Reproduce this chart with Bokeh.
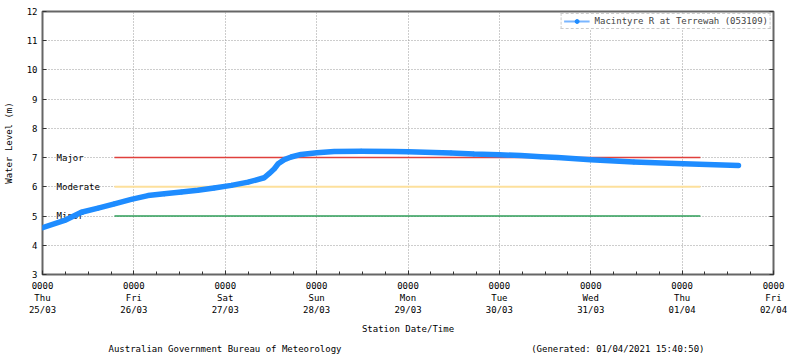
from bokeh.plotting import figure
from bokeh.models import (FixedTicker, LinearAxis, Legend, LegendItem, Title,
                          ColumnDataSource, Range1d)
from bokeh.core.properties import value
from bokeh.embed import file_html
from bokeh.resources import INLINE

# ---- data (hours since Thu 25/03 00:00) ----
hours = [0, 5.8, 10.2, 14.6, 18.9, 23.3, 27.7, 32, 36.5, 40.8, 45.1, 49.6, 54,
         58.2, 59.5, 60.9, 61.9, 63.5, 65.3, 67.9, 72.1, 76.6, 83.7, 92.3, 96,
         107.3, 113.3, 119.9, 125.6, 130.9, 135.3, 144, 155.3, 168.4, 182.8]
levels = [4.6, 4.85, 5.13, 5.27, 5.42, 5.57, 5.70, 5.76, 5.82, 5.88, 5.96, 6.05,
          6.16, 6.31, 6.45, 6.62, 6.79, 6.93, 7.02, 7.11, 7.17, 7.21, 7.22, 7.21,
          7.20, 7.16, 7.12, 7.10, 7.07, 7.03, 7.00, 6.93, 6.85, 6.79, 6.73]

day_ticks = [0, 24, 48, 72, 96, 120, 144, 168, 192]
day_times = ["0000"] * 9
day_names = ["Thu", "Fri", "Sat", "Sun", "Mon", "Tue", "Wed", "Thu", "Fri"]
day_dates = ["25/03", "26/03", "27/03", "28/03", "29/03", "30/03", "31/03", "01/04", "02/04"]
minor_ticks = list(range(0, 193, 6))
y_ticks = [3, 4, 5, 6, 7, 8, 9, 10, 11, 12]

thr_names = ["Major", "Moderate", "Minor"]
thr_levels = [7, 6, 5]
thr_colors = ["#e0403c", "#fde09c", "#2e9e58"]
thr_start = 18.9
thr_end = 172.8
thr_label_x = 3.7

series_name = "Macintyre R at Terrewah (053109)"
footer_left = "Australian Government Bureau of Meteorology"
footer_right = "(Generated: 01/04/2021 15:40:50)"
FONT = "DejaVu Sans Mono"
FS = "9px"

p = figure(width=800, height=358, output_backend="svg", toolbar_location=None,
           x_range=Range1d(0, 192), y_range=Range1d(3, 12),
           min_border_left=41, min_border_right=27, min_border_top=11,
           min_border_bottom=84)
p.background_fill_color = "white"
p.border_fill_color = "white"
p.outline_line_color = "#666666"
p.outline_line_width = 2

# axes
p.xaxis.ticker = FixedTicker(ticks=day_ticks, minor_ticks=minor_ticks)
p.yaxis.ticker = FixedTicker(ticks=y_ticks, minor_ticks=[])
p.xaxis.major_label_overrides = {t: f"{a}\n{b}\n{c}" for t, a, b, c in
                                 zip(day_ticks, day_times, day_names, day_dates)}
for ax in (p.xaxis[0], p.yaxis[0]):
    ax.axis_line_color = None
    ax.major_tick_in = 4
    ax.major_tick_out = 0
    ax.minor_tick_in = 3
    ax.minor_tick_out = 0
    ax.major_tick_line_color = "#333333"
    ax.minor_tick_line_color = "#333333"
    ax.major_label_text_font = FONT
    ax.major_label_text_font_size = FS
    ax.major_label_text_color = "black"
    ax.axis_label_text_font = FONT
    ax.axis_label_text_font_size = FS
    ax.axis_label_text_font_style = "normal"
    ax.axis_label_text_color = "black"
p.xaxis.axis_label = "Station Date/Time"
p.xaxis.major_label_standoff = 6
p.xaxis.axis_label_standoff = 6
p.yaxis.axis_label = "Water Level (m)"
p.yaxis.major_label_standoff = 5
p.yaxis.axis_label_standoff = 10

ra = LinearAxis(ticker=FixedTicker(ticks=y_ticks, minor_ticks=[]),
                axis_line_color=None, major_tick_in=4, major_tick_out=0,
                minor_tick_in=0, minor_tick_out=0,
                major_tick_line_color="#333333",
                major_label_overrides={t: "" for t in y_ticks})
p.add_layout(ra, "right")

# footer as a bottom title (monospace, aligned with non-breaking spaces)
gap = "\u00a0" * 35
p.add_layout(Title(text=footer_left + gap + footer_right, align="left",
                   offset=66, standoff=10, text_font=FONT, text_font_size=FS,
                   text_font_style="normal", text_color="black"), "below")

# grid
p.xgrid.ticker = FixedTicker(ticks=day_ticks)
p.ygrid.ticker = FixedTicker(ticks=y_ticks)
for g in (p.xgrid[0], p.ygrid[0]):
    g.grid_line_color = "#9a9a9a"
    g.grid_line_dash = "1 2"
    g.grid_line_width = 1

# thresholds
for n, lv, c in zip(thr_names, thr_levels, thr_colors):
    p.segment(x0=[thr_start], y0=[lv], x1=[thr_end], y1=[lv], line_color=c,
              line_width=2 if n == "Moderate" else 1.5)
p.text(x=[thr_label_x] * 3, y=thr_levels, text=thr_names,
       text_font=value(FONT), text_font_size=FS, text_baseline="middle",
       text_align="left", text_color="black")

# series
src = ColumnDataSource(dict(x=hours, y=levels))
lg_line = p.line("x", "y", source=src, line_color="#7ab6ff", line_width=2)
lg_pt = p.scatter("x", "y", source=src, marker="circle", size=4,
                  fill_color="#1e8cff", line_color="#1e8cff")
p.line("x", "y", source=src, line_color="#1e8cff", line_width=5.5,
       line_join="round", line_cap="round")

legend = Legend(items=[LegendItem(label=series_name, renderers=[lg_line, lg_pt])],
                location="top_right", margin=2, padding=2, spacing=0,
                glyph_width=26, glyph_height=10, label_height=10,
                label_standoff=5,
                label_text_font=FONT, label_text_font_size=FS,
                border_line_color="#999999", border_line_dash="1 2",
                background_fill_color="white", background_fill_alpha=1)
p.add_layout(legend)

open("out.html", "w").write(file_html(p, INLINE))
